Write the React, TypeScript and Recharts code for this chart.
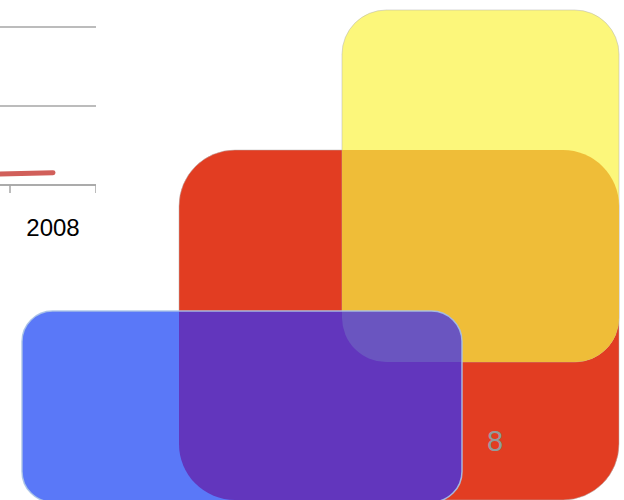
import React from 'react';
import {
  ComposedChart,
  LineChart,
  Line,
  XAxis,
  YAxis,
  CartesianGrid,
  ReferenceArea,
  ReferenceDot,
} from 'recharts';

// ---- partial line chart (top-left) ----
const years = ['2007', '2008'];
const seriesValues = [1.3, 1.56];
const yTicks = [0, 10, 20];
const boundaryTicks = [0, 1, 2];
const labelTicks = [1.5];

// ---- overlapping rounded sets ----
const setNames = ['red', 'yellow', 'blue'];
const setX1 = [179, 342, 22];
const setX2 = [619, 619, 462];
const setY1 = [150, 10, 311];
const setY2 = [500, 362, 502];
const setColors = ['#e23d22', '#fcf77b', '#5a78f8'];
const overlapRedYellow = '#efbd38';
const overlapRedBlue = '#6236bd';
const overlapAll = '#6a55c0';
const centerLabel = '8';
const centerLabelX = [495];
const centerLabelY = [441];

const lineData = years.map((y, i) => ({ x: i + 0.5, v: seriesValues[i] }));
const vennData = setNames.map((n, i) => ({ name: n, x: setX1[i], y: setY1[i] }));

const FONT = '"Liberation Sans", Arial, sans-serif';

const radiusOf = (w: number, h: number) => 0.16 * Math.min(w, h);

const makeBase = (name: string, fill: string, stroke: string) => (p: any) => {
  const { x, y, width, height } = p;
  const r = radiusOf(width, height);
  return (
    <g>
      <defs>
        <clipPath id={`clip-${name}`}>
          <rect x={x} y={y} width={width} height={height} rx={r} ry={r} />
        </clipPath>
      </defs>
      <rect x={x} y={y} width={width} height={height} rx={r} ry={r} fill={fill} stroke={stroke} strokeWidth={1} />
    </g>
  );
};

const makeOverlay = (fill: string, clips: string[]) => (p: any) => {
  const { x, y, width, height } = p;
  const r = radiusOf(width, height);
  let node: React.ReactNode = <rect x={x} y={y} width={width} height={height} rx={r} ry={r} fill={fill} />;
  clips.forEach((c) => {
    node = <g clipPath={`url(#clip-${c})`}>{node}</g>;
  });
  return <g>{node}</g>;
};

const makeOutline = (stroke: string) => (p: any) => {
  const { x, y, width, height } = p;
  const r = radiusOf(width, height);
  return <rect x={x} y={y} width={width} height={height} rx={r} ry={r} fill="none" stroke={stroke} strokeWidth={1.5} />;
};

const EmptyTick = () => <g />;

export default function App() {
  const area = (i: number, shape: any, key: string) => (
    <ReferenceArea
      key={key}
      x1={setX1[i]}
      x2={setX2[i]}
      y1={setY1[i]}
      y2={setY2[i]}
      ifOverflow="visible"
      shape={shape}
    />
  );
  return (
    <div style={{ position: 'absolute', left: 0, top: 0, width: 624, height: 500, overflow: 'hidden', background: '#fff' }}>
      <div style={{ position: 'absolute', left: 0, top: 0 }}>
        <ComposedChart width={624} height={500} data={vennData} margin={{ top: 0, right: 0, bottom: 0, left: 0 }}>
          <XAxis type="number" dataKey="x" domain={[0, 624]} hide allowDataOverflow />
          <YAxis type="number" dataKey="y" domain={[0, 500]} reversed hide allowDataOverflow />
          {area(0, makeBase('red', setColors[0], 'rgba(180,180,180,0.5)'), 'red')}
          {area(1, makeBase('yellow', setColors[1], 'rgba(180,180,180,0.5)'), 'yellow')}
          {area(1, makeOverlay(overlapRedYellow, ['red']), 'ry')}
          {area(2, makeBase('blue', setColors[2], 'none'), 'blue')}
          {area(2, makeOverlay(overlapRedBlue, ['red']), 'rb')}
          {area(2, makeOverlay(overlapAll, ['red', 'yellow']), 'ryb')}
          {area(2, makeOutline('rgba(170,195,230,0.9)'), 'bo')}
          <ReferenceDot
            x={centerLabelX[0]}
            y={centerLabelY[0]}
            r={1}
            fill="none"
            stroke="none"
            ifOverflow="visible"
            label={{ value: centerLabel, position: 'center', fill: '#929c9c', fontSize: 29, fontFamily: FONT }}
          />
        </ComposedChart>
      </div>
      <div style={{ position: 'absolute', left: -76, top: 0 }}>
        <LineChart width={172} height={245} data={lineData} margin={{ top: 27, right: 0, bottom: 0, left: 0 }}>
          <CartesianGrid xAxisId="a" vertical={false} stroke="#a6a6a6" strokeWidth={1.5} />
          <XAxis
            xAxisId="b"
            type="number"
            dataKey="x"
            domain={[0, years.length]}
            ticks={labelTicks}
            interval={0}
            tickFormatter={(v: number) => years[Math.floor(v)]}
            axisLine={false}
            tickLine={false}
            tickSize={0}
            tickMargin={24}
            height={50}
            tick={{ fill: '#000', fontSize: 24, fontFamily: FONT }}
            allowDataOverflow
          />
          <XAxis
            xAxisId="a"
            type="number"
            dataKey="x"
            domain={[0, years.length]}
            ticks={boundaryTicks}
            interval={0}
            tick={EmptyTick}
            tickSize={8}
            height={10}
            axisLine={{ stroke: '#a6a6a6', strokeWidth: 1.5 }}
            tickLine={{ stroke: '#a6a6a6', strokeWidth: 1.5 }}
            allowDataOverflow
          />
          <YAxis type="number" domain={[0, 20]} ticks={yTicks} hide allowDataOverflow />
          <Line
            xAxisId="a"
            type="linear"
            dataKey="v"
            stroke="#d15f5a"
            strokeWidth={5}
            strokeLinecap="round"
            dot={false}
            isAnimationActive={false}
          />
        </LineChart>
      </div>
    </div>
  );
}
